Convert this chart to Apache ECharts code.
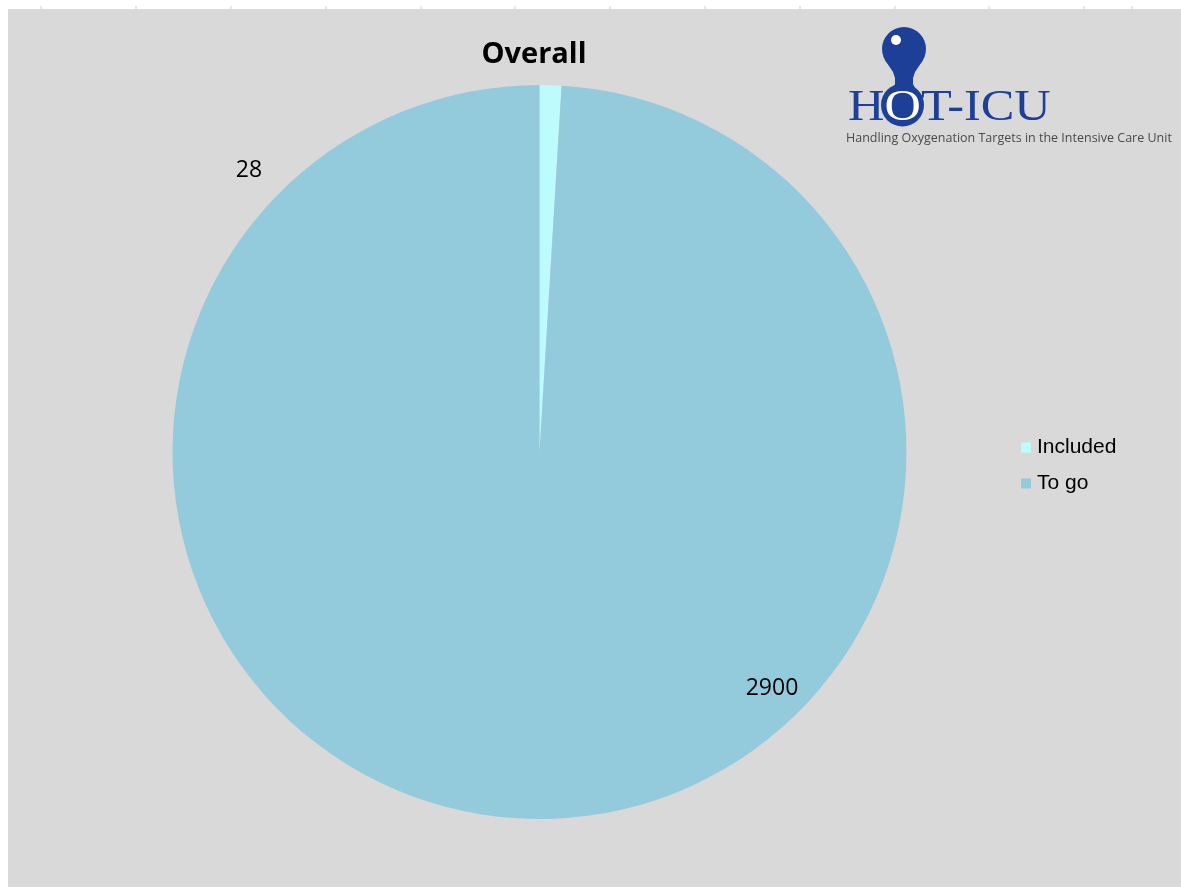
<!DOCTYPE html>
<html>
<head>
<meta charset="utf-8">
<script src="https://cdn.jsdelivr.net/npm/echarts@6/dist/echarts.min.js"></script>
<style>
html,body{margin:0;padding:0;background:#fff;}
#chart{width:1181px;height:889px;}
</style>
</head>
<body>
<div id="chart"></div>
<script>
var categories = ['Included', 'To go'];
var values = [28, 2900];
var colors = ['#bdfcfd', '#94cbdc'];
var titleText = 'Overall';

var chart = echarts.init(document.getElementById('chart'));

var ticks = [41, 136, 231, 326, 421, 515, 610, 705, 800, 895, 989, 1084, 1132].map(function (x) {
  return { type: 'line', shape: { x1: x, y1: 6, x2: x, y2: 9 }, style: { stroke: '#d0d0d0', lineWidth: 1 }, z: 1 };
});

var neckOffsets = [[60, 19], [66, 15], [72, 11], [78, 9], [84, 9], [90, 12], [96, 18]];
var neckPts = neckOffsets.map(function (p) { return [904 - p[1], p[0]]; })
  .concat(neckOffsets.slice().reverse().map(function (p) { return [904 + p[1], p[0]]; }));

var option = {
  backgroundColor: '#ffffff',
  animation: false,
  title: {
    text: titleText,
    left: 529, top: 35,
    textAlign: 'center',
    textStyle: { fontFamily: 'Open Sans', fontWeight: 'bold', fontSize: 29, color: '#000' }
  },
  legend: {
    data: categories,
    orient: 'vertical',
    left: 1016, top: 432,
    icon: 'rect', itemWidth: 10, itemHeight: 10, itemGap: 15,
    textStyle: { fontFamily: 'Liberation Sans', fontSize: 21, color: '#000', padding: [0, 0, 0, 1] }
  },
  color: colors,
  series: [{
    type: 'pie',
    center: [539.5, 452],
    radius: [0, 367],
    startAngle: 90,
    clockwise: true,
    label: { show: false },
    labelLine: { show: false },
    itemStyle: { borderWidth: 0 },
    data: categories.map(function (c, i) { return { name: c, value: values[i] }; }),
    z: 2
  }],
  graphic: {
    elements: [
      { type: 'rect', shape: { x: 8, y: 9, width: 1173, height: 878 }, style: { fill: '#d9d9d9' }, z: -10, silent: true }
    ].concat(ticks).concat([
      { type: 'text', x: 249, y: 170, style: { text: String(values[0]), font: '23px "Open Sans"', fill: '#000', align: 'center', verticalAlign: 'middle' }, z: 10 },
      { type: 'text', x: 772, y: 688, style: { text: String(values[1]), font: '23px "Open Sans"', fill: '#000', align: 'center', verticalAlign: 'middle' }, z: 10 },
      // logo
      { type: 'circle', shape: { cx: 904, cy: 49, r: 22 }, style: { fill: '#1e3f98' }, z: 10 },
      { type: 'polygon', shape: { points: neckPts }, style: { fill: '#1e3f98' }, z: 10 },
      { type: 'circle', shape: { cx: 902.5, cy: 105, r: 21.5 }, style: { fill: '#1e3f98' }, z: 10 },
      { type: 'circle', shape: { cx: 896, cy: 40, r: 5 }, style: { fill: '#ffffff' }, z: 11 },
      { type: 'text', x: 848, y: 108, scaleX: 1.12, style: { text: 'H', font: '45px "Liberation Serif"', fill: '#1e3f98', verticalAlign: 'middle' }, z: 11 },
      { type: 'text', x: 884.5, y: 108, scaleX: 1.12, style: { text: 'O', font: '45px "Liberation Serif"', fill: '#ffffff', verticalAlign: 'middle' }, z: 11 },
      { type: 'text', x: 921, y: 108, scaleX: 1.12, style: { text: 'T-ICU', font: '45px "Liberation Serif"', fill: '#1e3f98', verticalAlign: 'middle' }, z: 11 },
      { type: 'text', x: 846, y: 138, style: { text: 'Handling Oxygenation Targets in the Intensive Care Unit', font: '12.5px "Open Sans"', fill: '#4a4a4a', verticalAlign: 'middle' }, z: 11 }
    ])
  }
};
chart.setOption(option);
</script>
</body>
</html>
